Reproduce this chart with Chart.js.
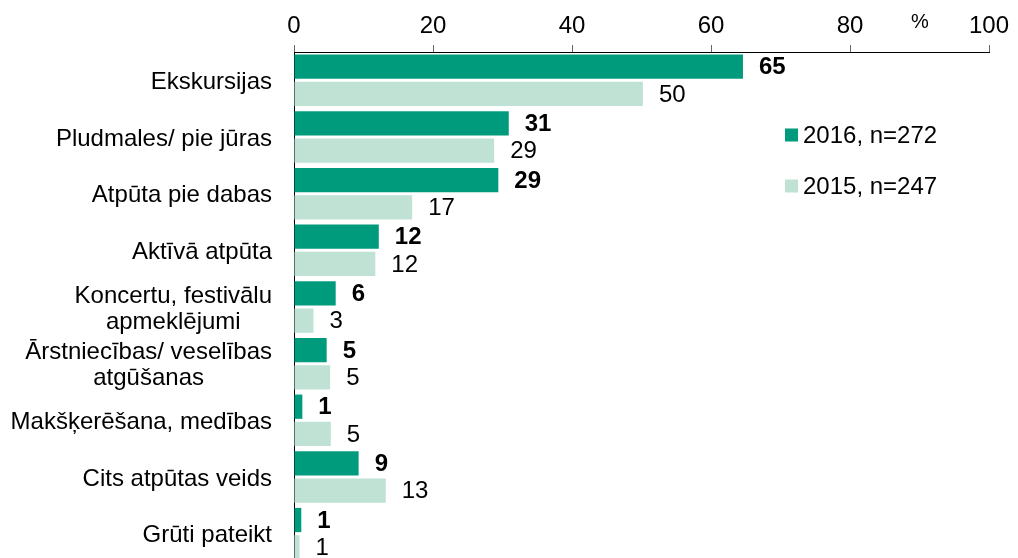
<!DOCTYPE html>
<html>
<head>
<meta charset="utf-8">
<script src="https://cdn.jsdelivr.net/npm/chart.js@4"></script>
<style>
  html, body { margin: 0; padding: 0; background: #fff; overflow: hidden; }
  #wrap { width: 1018px; height: 562px; }
</style>
</head>
<body>
<div id="wrap"><canvas id="myChart" width="1018" height="562"></canvas></div>
<script>
// categories (multi-line ones as arrays)
const categories = [
  "Ekskursijas",
  "Pludmales/ pie jūras",
  "Atpūta pie dabas",
  "Aktīvā atpūta",
  ["Koncertu, festivālu", "apmeklējumi"],
  ["Ārstniecības/ veselības", "atgūšanas"],
  "Makšķerēšana, medības",
  "Cits atpūtas veids",
  "Grūti pateikt"
];
// bar lengths
const values2016 = [64.6, 30.9, 29.4, 12.2, 6.0, 4.7, 1.2, 9.3, 1.05];
const values2015 = [50.2, 28.8, 17.0, 11.7, 2.8, 5.2, 5.3, 13.2, 0.8];
// printed value labels
const labels2016 = ["65", "31", "29", "12", "6", "5", "1", "9", "1"];
const labels2015 = ["50", "29", "17", "12", "3", "5", "5", "13", "1"];
const xTicks = [0, 20, 40, 60, 80, 100];
const seriesNames = ["2016, n=272", "2015, n=247"];

const darkGreen = "#009b7d";
const lightGreen = "#c0e2d4";
const FONT = "'Liberation Sans', Arial, sans-serif";

const extras = {
  id: "extras",
  afterDraw(chart) {
    const ctx = chart.ctx;
    const y = chart.scales.y;
    ctx.save();
    ctx.fillStyle = "#000";
    ctx.textBaseline = "middle";

    // category labels: block right-aligned, lines centered
    ctx.font = "24px " + FONT;
    const rightEdge = 272;
    categories.forEach((c, i) => {
      const cy = y.getPixelForValue(i);
      const lines = Array.isArray(c) ? c : [c];
      const w = Math.max(...lines.map(l => ctx.measureText(l).width));
      const lh = 26;
      ctx.textAlign = "center";
      lines.forEach((l, k) => {
        ctx.fillText(l, rightEdge - w / 2, cy + (k - (lines.length - 1) / 2) * lh + 2);
      });
    });

    // value labels
    ctx.textAlign = "left";
    [[0, labels2016, "bold 24px "], [1, labels2015, "24px "]].forEach(([ds, labs, f]) => {
      ctx.font = f + FONT;
      chart.getDatasetMeta(ds).data.forEach((bar, i) => {
        ctx.fillText(labs[i], bar.x + 16, bar.y + 1);
      });
    });

    // % sign
    ctx.font = "20px " + FONT;
    ctx.textAlign = "center";
    ctx.fillText("%", 920, 22);

    // legend
    ctx.font = "24px " + FONT;
    ctx.textAlign = "left";
    [[darkGreen, 135], [lightGreen, 186]].forEach(([col, ly], k) => {
      ctx.fillStyle = col;
      ctx.fillRect(785, ly - 6.5, 13, 13);
      ctx.fillStyle = "#000";
      ctx.fillText(seriesNames[k], 803, ly + 1);
    });
    ctx.restore();
  }
};

new Chart(document.getElementById("myChart"), {
  type: "bar",
  data: {
    labels: categories,
    datasets: [
      {
        label: seriesNames[0],
        data: values2016,
        backgroundColor: darkGreen,
        categoryPercentage: 0.963,
        barPercentage: 0.89
      },
      {
        label: seriesNames[1],
        data: values2015,
        backgroundColor: lightGreen,
        categoryPercentage: 0.963,
        barPercentage: 0.89
      }
    ]
  },
  options: {
    indexAxis: "y",
    responsive: false,
    animation: false,
    layout: { padding: { left: 0, right: 29, top: 0, bottom: 0 } },
    plugins: { legend: { display: false }, tooltip: { enabled: false } },
    scales: {
      x: {
        position: "top",
        min: 0,
        max: 100,
        afterFit(scale) { scale.height = 52; },
        afterBuildTicks(scale) { scale.ticks = xTicks.map(v => ({ value: v })); },
        grid: { drawOnChartArea: false, tickLength: 7, tickColor: "#666" },
        border: { color: "#000", width: 1 },
        ticks: { color: "#000", padding: 4, font: { size: 24, family: FONT } }
      },
      y: {
        afterFit(scale) { scale.width = 294; },
        grid: { display: false },
        border: { color: "#000", width: 1 },
        ticks: { display: false }
      }
    }
  },
  plugins: [extras]
});
</script>
</body>
</html>
